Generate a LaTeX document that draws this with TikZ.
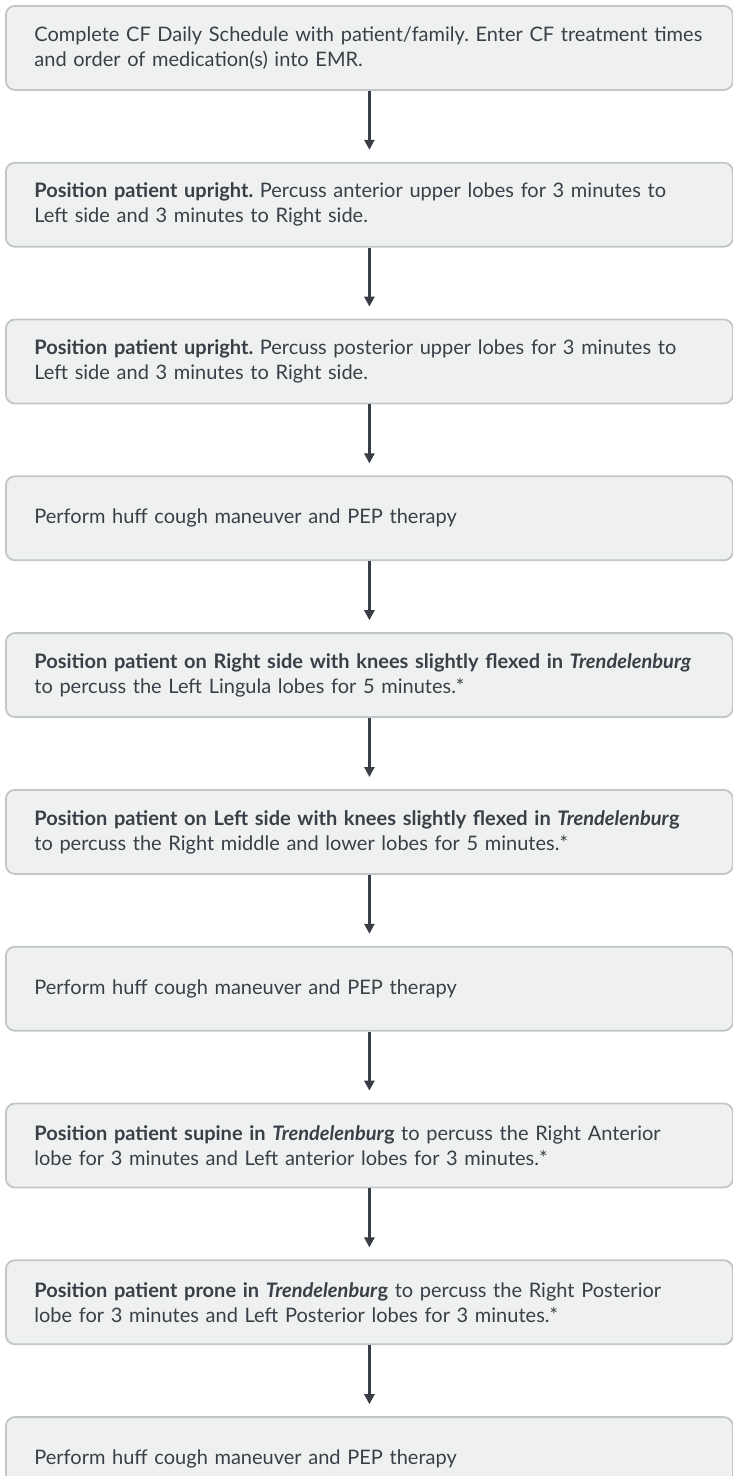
\documentclass[tikz,border=0pt]{standalone}
\usepackage{fontspec}
\setmainfont{Lato}
\frenchspacing
\usetikzlibrary{positioning,arrows.meta}

\definecolor{boxfill}{RGB}{239,240,240}
\definecolor{boxline}{RGB}{194,198,202}
\definecolor{textgray}{RGB}{58,63,71}
\definecolor{arrowgray}{RGB}{56,61,70}

\tikzset{
  flowbox/.style={draw=boxline, fill=boxfill, line width=1.8pt, rounded corners=9pt,
    minimum width=727pt, minimum height=84pt, text width=670pt, inner xsep=28.5pt,
    align=left, text=textgray, font=\fontsize{20}{25}\selectfont},
  flowarrow/.style={draw=arrowgray, line width=2.6pt,
    -{Triangle[width=10pt,length=10pt]}, shorten >=12pt}
}

\begin{document}
\begin{tikzpicture}[x=1pt,y=1pt]
	\clip (0,0) rectangle (733,-1476);

	% Pasos
	\node[flowbox, anchor=north west] (plan) at (5,-5) {Complete CF Daily Schedule with patient/family. Enter CF treatment times\\and order of medication(s) into EMR.};
	\node[flowbox, below=71pt of plan] (antup) {\textbf{Position patient upright.} Percuss anterior upper lobes for 3 minutes to\\Left side and 3 minutes to Right side.};
	\node[flowbox, below=71pt of antup] (postup) {\textbf{Position patient upright.} Percuss posterior upper lobes for 3 minutes to\\Left side and 3 minutes to Right side.};
	\node[flowbox, below=71pt of postup] (huffa) {Perform huff cough maneuver and PEP therapy};
	\node[flowbox, below=71pt of huffa] (rside) {\textbf{Position patient on Right side with knees slightly flexed in \textit{Trendelenburg}}\\to percuss the Left Lingula lobes for 5 minutes.*};
	\node[flowbox, below=71pt of rside] (lside) {\textbf{Position patient on Left side with knees slightly flexed in \textit{Trendelenbur}g}\\to percuss the Right middle and lower lobes for 5 minutes.*};
	\node[flowbox, below=71pt of lside] (huffb) {Perform huff cough maneuver and PEP therapy};
	\node[flowbox, below=71pt of huffb] (supine) {\textbf{Position patient supine in \textit{Trendelenbur}g} to percuss the Right Anterior\\lobe for 3 minutes and Left anterior lobes for 3 minutes.*};
	\node[flowbox, below=71pt of supine] (prone) {\textbf{Position patient prone in \textit{Trendelenbur}g} to percuss the Right Posterior\\lobe for 3 minutes and Left Posterior lobes for 3 minutes.*};
	\node[flowbox, below=71pt of prone] (huffc) {Perform huff cough maneuver and PEP therapy};

	% Flechas
	\foreach \a/\b in {plan/antup, antup/postup, postup/huffa, huffa/rside, rside/lside,
		lside/huffb, huffb/supine, supine/prone, prone/huffc}
		\draw[flowarrow] (\a) -- (\b);
\end{tikzpicture}
\end{document}
